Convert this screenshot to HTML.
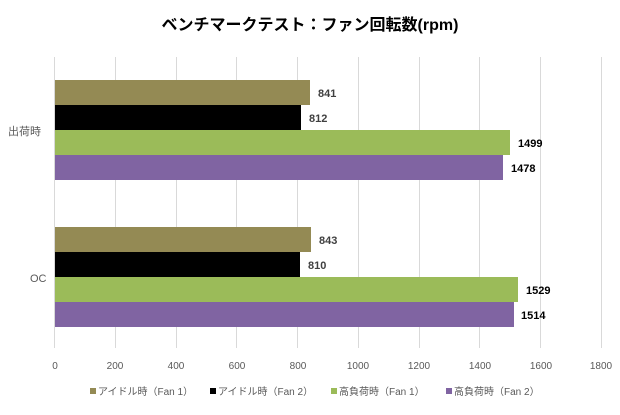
<!DOCTYPE html>
<html><head><meta charset="utf-8"><style>
body{margin:0;background:#fff;}
svg text{font-family:"Liberation Sans","Noto Sans CJK JP",sans-serif;}
</style></head><body>
<svg width="620" height="410" xmlns="http://www.w3.org/2000/svg">
<rect width="620" height="410" fill="#fff"/>
<text x="310" y="30" text-anchor="middle" font-size="16" font-weight="bold" fill="#000">ベンチマークテスト：ファン回転数(rpm)</text>
<g stroke="#d9d9d9" stroke-width="1">
<line x1="54.5" y1="57" x2="54.5" y2="348"/>
<line x1="115.5" y1="57" x2="115.5" y2="348"/>
<line x1="176.5" y1="57" x2="176.5" y2="348"/>
<line x1="236.5" y1="57" x2="236.5" y2="348"/>
<line x1="297.5" y1="57" x2="297.5" y2="348"/>
<line x1="358.5" y1="57" x2="358.5" y2="348"/>
<line x1="419.5" y1="57" x2="419.5" y2="348"/>
<line x1="479.5" y1="57" x2="479.5" y2="348"/>
<line x1="540.5" y1="57" x2="540.5" y2="348"/>
<line x1="601.5" y1="57" x2="601.5" y2="348"/>
</g>
<rect x="55" y="80" width="255" height="25" fill="#948a54"/>
<rect x="55" y="105" width="246" height="25" fill="#000"/>
<rect x="55" y="130" width="455" height="25" fill="#9bbb59"/>
<rect x="55" y="155" width="448" height="25" fill="#8064a2"/>
<rect x="55" y="227" width="256" height="25" fill="#948a54"/>
<rect x="55" y="252" width="245" height="25" fill="#000"/>
<rect x="55" y="277" width="463" height="25" fill="#9bbb59"/>
<rect x="55" y="302" width="459" height="25" fill="#8064a2"/>
<g font-size="11" font-weight="bold">
<text x="318" y="97" fill="#404040">841</text>
<text x="309" y="122" fill="#404040">812</text>
<text x="518" y="147" fill="#000">1499</text>
<text x="511" y="172" fill="#000">1478</text>
<text x="319" y="244" fill="#404040">843</text>
<text x="308" y="269" fill="#404040">810</text>
<text x="526" y="294" fill="#000">1529</text>
<text x="521" y="319" fill="#000">1514</text>
</g>
<g font-size="11" fill="#595959">
<text x="8" y="135">出荷時</text>
<text x="30" y="282">OC</text>
</g>
<g font-size="10" fill="#595959" text-anchor="middle">
<text x="55" y="369">0</text><text x="115" y="369">200</text><text x="176" y="369">400</text>
<text x="237" y="369">600</text><text x="298" y="369">800</text><text x="358" y="369">1000</text>
<text x="419" y="369">1200</text><text x="480" y="369">1400</text><text x="541" y="369">1600</text>
<text x="601" y="369">1800</text>
</g>
<g font-size="10" fill="#595959">
<rect x="90" y="388" width="6" height="6" fill="#948a54"/><text x="98" y="395">アイドル時（Fan 1）</text>
<rect x="210" y="388" width="6" height="6" fill="#000"/><text x="218" y="395">アイドル時（Fan 2）</text>
<rect x="331" y="388" width="6" height="6" fill="#9bbb59"/><text x="339" y="395">高負荷時（Fan 1）</text>
<rect x="446" y="388" width="6" height="6" fill="#8064a2"/><text x="454" y="395">高負荷時（Fan 2）</text>
</g>
</svg>
</body></html>
